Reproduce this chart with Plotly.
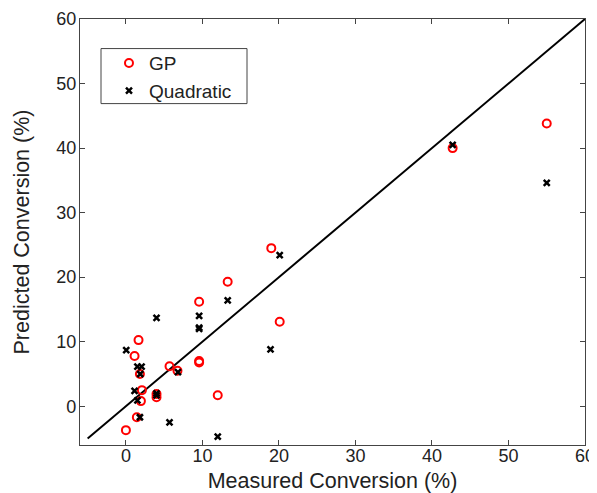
import plotly.graph_objects as go

# GP predictions
gp_measured = [0.0, 1.43, 1.96, 2.09, 4.0, 4.0, 1.83, 1.13, 1.65, 5.7, 6.74, 9.57, 9.57, 9.57, 12.0, 13.3, 19.0, 20.1, 42.7, 55.0]
gp_predicted = [-3.7, -1.7, 0.8, 2.5, 1.4, 1.9, 5.0, 7.8, 10.25, 6.2, 5.5, 6.8, 7.0, 16.2, 1.7, 19.3, 24.5, 13.1, 40.0, 43.8]

# Quadratic predictions
quad_measured = [0.04, 1.13, 1.5, 1.5, 2.05, 1.87, 1.83, 4.0, 4.0, 4.0, 5.7, 6.8, 9.57, 9.57, 9.57, 12.0, 13.3, 18.9, 20.1, 42.7, 55.0]
quad_predicted = [8.7, 2.4, 0.9, 6.15, 6.15, 5.0, -1.7, 13.7, 2.0, 1.7, -2.5, 5.3, 14.0, 12.2, 12.0, -4.7, 16.4, 8.8, 23.4, 40.5, 34.6]

# identity line
diag = [-5, 60]

ticks = [0, 10, 20, 30, 40, 50, 60]
tick_labels = ["0", "10", "20", "30", "40", "50", "60"]

fig = go.Figure()
fig.add_trace(go.Scatter(x=diag, y=diag, mode="lines", line=dict(color="black", width=2),
                         showlegend=False, hoverinfo="skip"))
fig.add_trace(go.Scatter(x=gp_measured, y=gp_predicted, mode="markers", name="GP",
                         marker=dict(symbol="circle-open", size=8, color="red", line=dict(width=2, color="red"))))
fig.add_trace(go.Scatter(x=quad_measured, y=quad_predicted, mode="markers", name="Quadratic",
                         marker=dict(symbol="x-thin-open", size=6, color="black", line=dict(width=2.5, color="black"))))

axis_common = dict(
    tickvals=ticks, ticktext=tick_labels, ticks="inside", ticklen=5, tickwidth=1, tickcolor="#444",
    showline=True, linecolor="#444", linewidth=1.2, mirror="ticks", showgrid=False, zeroline=False,
    tickfont=dict(size=18, color="#222"), title_font=dict(size=21.5, color="#222"), automargin=False,
)

# the page body adds an 8px offset, so the figure is 8px smaller and margins are reduced by 8
fig.update_layout(
    width=589, height=485,
    margin=dict(l=72, r=12, t=11, b=48),
    paper_bgcolor="white", plot_bgcolor="white",
    font=dict(family="Liberation Sans, Arial, sans-serif", color="#222"),
    xaxis=dict(range=[-6, 60], title=dict(text="Measured Conversion (%)", standoff=8),
               ticklabelstandoff=-6, **axis_common),
    yaxis=dict(range=[-6, 60], title=dict(text="Predicted Conversion (%)", standoff=20),
               ticklabelstandoff=-1, **axis_common),
    legend=dict(x=0.0574, y=0.941, xanchor="left", yanchor="top", bgcolor="rgba(0,0,0,0)",
                borderwidth=0, font=dict(size=19, color="#222"), itemwidth=30),
    showlegend=True,
    shapes=[dict(type="rect", xref="paper", yref="paper", x0=0.0416, x1=0.3307, y0=0.8014, y1=0.9306,
                 line=dict(color="#444", width=1), fillcolor="rgba(0,0,0,0)", layer="above")],
)

fig.write_html("out.html")
